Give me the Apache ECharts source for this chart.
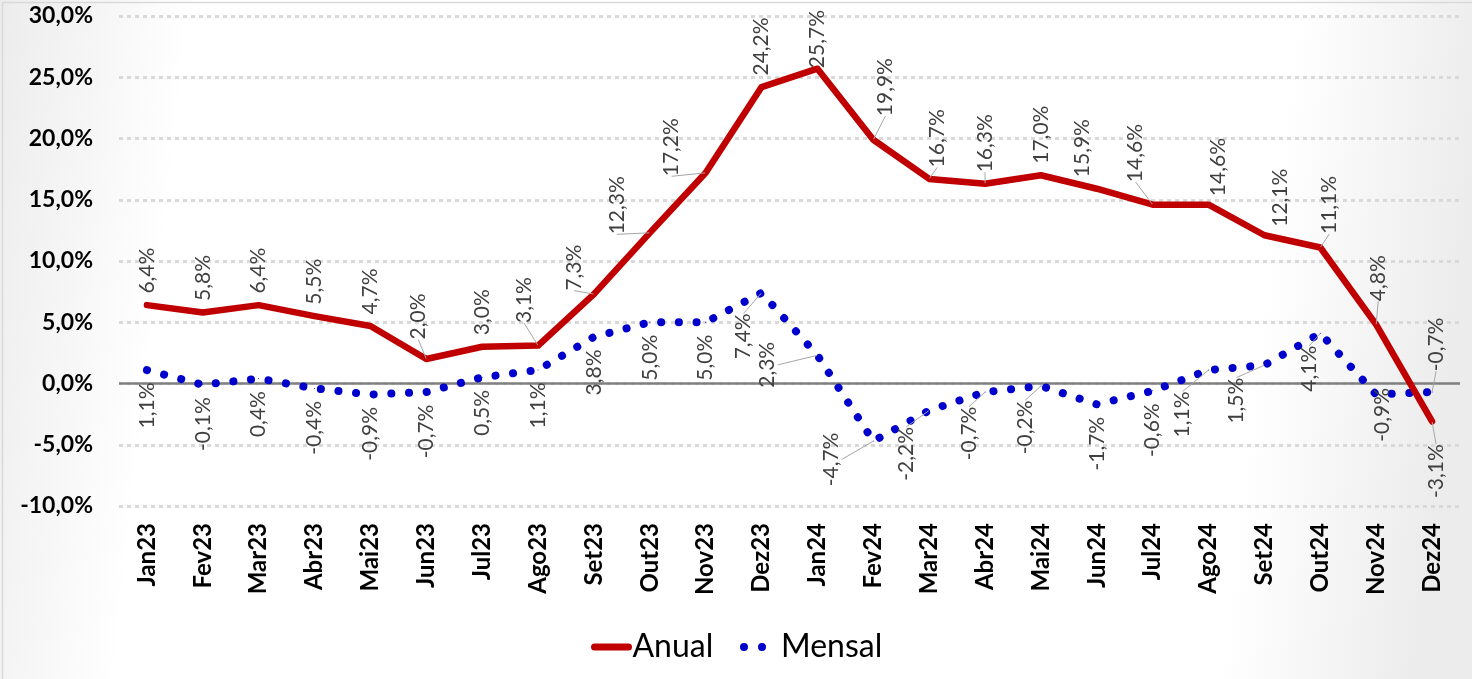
<!DOCTYPE html>
<html><head><meta charset="utf-8">
<script src="https://cdn.jsdelivr.net/npm/echarts@6/dist/echarts.min.js"></script>
<style>html,body{margin:0;padding:0;background:#fff}#c{width:1472px;height:679px}</style>
</head><body><div id="c"></div>
<script>
const categories = ['Jan23','Fev23','Mar23','Abr23','Mai23','Jun23','Jul23','Ago23','Set23','Out23','Nov23','Dez23',
  'Jan24','Fev24','Mar24','Abr24','Mai24','Jun24','Jul24','Ago24','Set24','Out24','Nov24','Dez24'];
const anual = [6.4, 5.8, 6.4, 5.5, 4.7, 2.0, 3.0, 3.1, 7.3, 12.3, 17.2, 24.2,
  25.7, 19.9, 16.7, 16.3, 17.0, 15.9, 14.6, 14.6, 12.1, 11.1, 4.8, -3.1];
const mensal = [1.1, -0.1, 0.4, -0.4, -0.9, -0.7, 0.5, 1.1, 3.8, 5.0, 5.0, 7.4,
  2.3, -4.7, -2.2, -0.7, -0.2, -1.7, -0.6, 1.1, 1.5, 4.1, -0.9, -0.7];
const yTicks = {min: -10, max: 30, interval: 5};

// label displacement on screen (dx, dy, leader line) — styling only
const anualShift = [[0,0],[0,0],[0,0],[0,0],[0,0],[-8,-8,1],[0,0],[-14,-11,1],[-20,8,1],[-33,13,1],[-34,15,1],[0,0],
  [0,11],[12,-12,1],[8,0,1],[0,0,1],[0,0],[-15,0],[-17,-11,1],[10,3],[16,3],[9,-2,1],[2,-12,1],[4,88,1]];
const mensalShift = [[0,0],[0,0],[0,0],[0,0],[0,0],[0,0],[0,0],[0,0],[0,0],[0,0],[0,0],[-18,8,1],
  [-50,-26,1],[-42,-21,1],[-23,4,1],[-16,2,1],[-16,2,1],[0,0],[0,0],[-26,9,1],[-28,0,1],[-11,0,1],[6,-19],[4,-87,1]];

const fmt = v => v.toFixed(1).replace('.', ',') + '%';
const FONT = 'Lato, "Open Sans", sans-serif';

function items(vals, shift) {
  return vals.map((v, i) => ({
    value: v,
    labelLine: {show: !!shift[i][2], lineStyle: {color: '#a6a6a6', width: 1}}
  }));
}
// labels are rotated 90deg, so the layout offsets are given in the label's rotated frame
const toLocal = s => ({dx: -s[1], dy: s[0]});

const chart = echarts.init(document.getElementById('c'), null, {renderer: 'canvas'});
chart.setOption({
  animation: false,
  backgroundColor: {
    type: 'linear', x: 0, y: 0, x2: 1, y2: 0.25,
    colorStops: [
      {offset: 0, color: '#ececec'},
      {offset: 0.13, color: '#ffffff'},
      {offset: 0.87, color: '#ffffff'},
      {offset: 1, color: '#ececec'}
    ]
  },
  graphic: [{
    type: 'rect', left: 0, top: 0, z: 100, silent: true,
    shape: {width: 1471, height: 678},
    style: {fill: 'none', stroke: '#d9d9d9', lineWidth: 1.5}
  }],
  grid: {left: 119, right: 12, top: 16, bottom: 173, containLabel: false, outerBoundsMode: 'none'},
  legend: [{
    data: [{name: 'Anual', icon: 'path://M3,0 L37,0 A3.5,3.5 0 0 1 37,7 L3,7 A3.5,3.5 0 0 1 3,0 Z'}],
    left: 586, top: 626, itemWidth: 42, itemHeight: 7, itemGap: 0,
    textStyle: {fontFamily: FONT, fontSize: 32, color: '#000', padding: [0, 0, 0, -5]}
  }, {
    data: [{name: 'Mensal', icon: 'path://M0,4 A4,4 0 1 0 8,4 A4,4 0 1 0 0,4 Z M18,4 A4,4 0 1 0 26,4 A4,4 0 1 0 18,4 Z'}],
    left: 735, top: 626, itemWidth: 26, itemHeight: 8, itemGap: 0,
    textStyle: {fontFamily: FONT, fontSize: 32, color: '#000', padding: [0, 0, 0, 10]}
  }],
  xAxis: {
    type: 'category', data: categories, boundaryGap: true,
    axisLine: {show: false}, axisTick: {show: false},
    axisLabel: {rotate: 90, margin: 17, fontFamily: FONT, fontWeight: 'bold', fontSize: 24, color: '#000', interval: 0}
  },
  yAxis: {
    type: 'value', min: yTicks.min, max: yTicks.max, interval: yTicks.interval,
    axisLine: {show: false}, axisTick: {show: false},
    axisLabel: {formatter: fmt, margin: 26, fontFamily: FONT, fontWeight: 'bold', fontSize: 23, color: '#000'},
    splitLine: {lineStyle: {color: '#d9d9d9', width: 3, type: [4, 4]}}
  },
  series: [{
    name: 'Mensal', type: 'line', z: 3,
    data: items(mensal, mensalShift),
    showSymbol: true, symbol: 'circle', symbolSize: 1,
    itemStyle: {color: '#0000cc'},
    lineStyle: {color: '#0000cc', width: 8, type: [0.1, 17.6], cap: 'round', join: 'round'},
    label: {
      show: true, position: 'bottom', distance: 12, rotate: 90, align: 'right', verticalAlign: 'middle',
      formatter: p => fmt(p.value), fontFamily: FONT, fontSize: 21, color: '#404040'
    },
    labelLayout: p => toLocal(mensalShift[p.dataIndex]),
    markLine: {
      silent: true, symbol: 'none', z: 1, animation: false,
      label: {show: false},
      lineStyle: {color: '#808080', width: 2.5, type: 'solid'},
      data: [{yAxis: 0}]
    }
  }, {
    name: 'Anual', type: 'line', z: 4,
    data: items(anual, anualShift),
    showSymbol: true, symbol: 'circle', symbolSize: 1,
    itemStyle: {color: '#c00000'},
    lineStyle: {color: '#c00000', width: 6.5, join: 'round', cap: 'round'},
    label: {
      show: true, position: 'top', distance: 11, rotate: 90, align: 'left', verticalAlign: 'middle',
      formatter: p => fmt(p.value), fontFamily: FONT, fontSize: 21, color: '#404040'
    },
    labelLayout: p => toLocal(anualShift[p.dataIndex])
  }]
});
</script></body></html>
